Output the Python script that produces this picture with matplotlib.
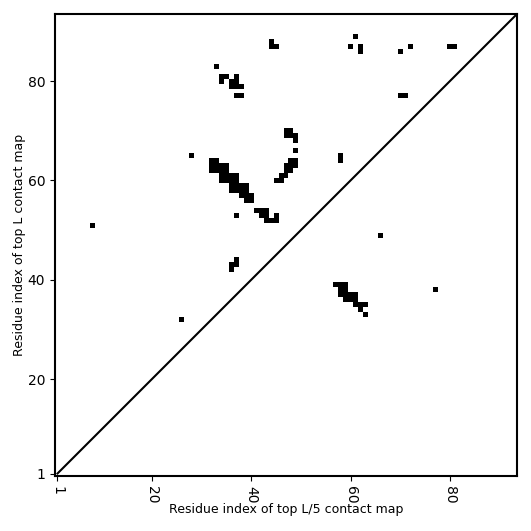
import numpy as np
import matplotlib
matplotlib.use("Agg")
import matplotlib.pyplot as plt

L = 93

# top L contacts (upper triangle), residue numbers 1-based
top_L_x = [8, 28, 26, 33, 34, 34, 35, 37, 36, 37, 36, 37, 38, 37, 38,
           44, 44, 45, 61, 60, 62, 62, 70, 72, 80, 81, 70, 71,
           47, 48, 47, 48, 49, 49, 49, 48, 49, 48, 49, 47, 47, 48, 46, 47, 45, 46,
           32, 33, 32, 33, 34, 35, 32, 33, 34, 35, 34, 35, 36, 37, 34, 35, 36, 37,
           36, 37, 38, 39, 36, 37, 38, 39, 38, 39, 40, 39, 40,
           37, 41, 42, 43, 42, 43, 45, 43, 44, 45,
           37, 37, 36, 36, 58, 58]
top_L_y = [51, 65, 32, 83, 81, 80, 81, 81, 80, 80, 79, 79, 79, 77, 77,
           88, 87, 87, 89, 87, 87, 86, 86, 87, 87, 87, 77, 77,
           70, 70, 69, 69, 69, 68, 66, 64, 64, 63, 63, 63, 62, 62, 61, 61, 60, 60,
           64, 64, 63, 63, 63, 63, 62, 62, 62, 62, 61, 61, 61, 61, 60, 60, 60, 60,
           59, 59, 59, 59, 58, 58, 58, 58, 57, 57, 57, 56, 56,
           53, 54, 54, 54, 53, 53, 53, 52, 52, 52,
           44, 43, 43, 42, 65, 64]

# top L/5 contacts (lower triangle)
top_L5_x = [66, 77, 57, 58, 59, 58, 59, 58, 59, 60, 61, 59, 60, 61, 61, 62, 63, 62, 63]
top_L5_y = [49, 38, 39, 39, 39, 38, 38, 37, 37, 37, 37, 36, 36, 36, 35, 35, 35, 34, 33]

tick_labels = [1, 20, 40, 60, 80]


def build_map(xs, ys, size):
    cmap = np.zeros((size, size))
    for x, y in zip(xs, ys):
        cmap[y - 1, x - 1] = 1
    return cmap


contact = build_map(top_L_x + top_L5_x, top_L_y + top_L5_y, L)

fig = plt.figure(figsize=(5.31, 5.31), dpi=100)
ax = fig.add_axes([55 / 531, 55 / 531, 462 / 531, 462 / 531])
ax.imshow(contact, cmap='Greys', origin='lower', interpolation='nearest',
          vmin=0, vmax=1, aspect='auto')
ax.plot([0, L], [0, L], color='black', linewidth=1.5)
ax.set_xlim(-0.5, L - 0.5)
ax.set_ylim(-0.5, L - 0.5)

ticks = [t - 1 for t in tick_labels]
ax.set_xticks(ticks)
ax.set_xticklabels([str(t) for t in tick_labels], rotation=-90)
ax.set_yticks(ticks)
ax.set_yticklabels([str(t) for t in tick_labels])
for sp in ax.spines.values():
    sp.set_linewidth(1.5)

ax.set_xlabel('Residue index of top L/5 contact map', fontsize=9, labelpad=0)
ax.set_ylabel('Residue index of top L contact map', fontsize=9, labelpad=1)

fig.savefig('out.png', dpi=100)
